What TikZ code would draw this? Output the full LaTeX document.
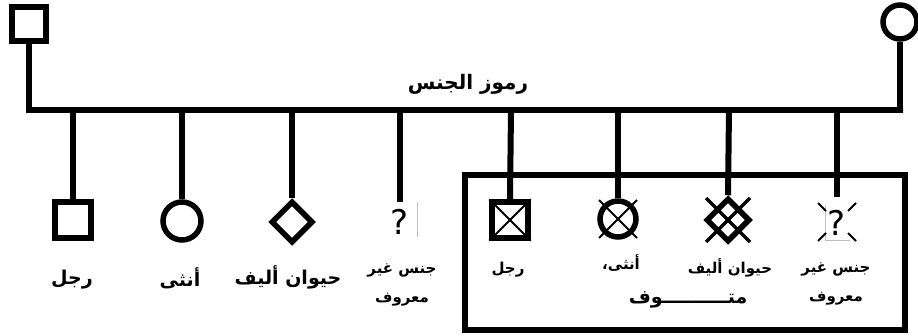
\documentclass[tikz,border=0pt]{standalone}
\usepackage{fontspec}
\usetikzlibrary{shapes.geometric}
\TeXXeTstate=1
\newfontfamily\arabicfont[Script=Arabic]{DejaVu Sans}
\newcommand{\ar}[1]{{\arabicfont\bfseries\beginR #1\endR}}
\begin{document}
\begin{tikzpicture}[x=1pt,y=-1pt,
  line/.style={line width=6pt},
  sym/.style={line width=5.5pt},
  xline/.style={line width=2pt},
  lab/.style={font=\fontsize{19}{22}\selectfont},
  blab/.style={font=\fontsize{15}{22}\selectfont},
  ulab/.style={font=\fontsize{15}{29}\selectfont, align=center},
  qm/.style={font=\arabicfont\fontsize{34}{34}\selectfont, inner sep=0pt},
  gline/.style={line width=0.8pt, draw=black!25}]
\useasboundingbox (0,0) rectangle (918,336);
% parents
\node[draw, sym, minimum size=34pt, inner sep=0pt] (father) at (29,24) {};
\node[draw, sym, circle, minimum size=34pt, inner sep=0pt] (mother) at (900,22) {};
\coordinate (jl) at (30,110);
\coordinate (jr) at (903,110);
\draw[line] (father.south) |- (jl) -- (jr) -| (mother.south);
\node[font=\fontsize{20}{22}\selectfont] (title) at (468,84) {\ar{رموز الجنس}};
% living
\node[draw, sym, minimum size=36pt, inner sep=0pt] (male) at (73,220) {};
\node[draw, sym, circle, minimum size=38pt, inner sep=0pt] (female) at (182,221) {};
\node[draw, sym, diamond, aspect=1, minimum size=42pt, inner sep=0pt] (pet) at (292,222) {};
\node[qm, anchor=base] (unk) at (400,235) {?};
\coordinate (unkt) at (400,202);
\draw[gline] (417,202) -- (417,237);
\foreach \n/\x in {male/73,female/182,pet/292} \draw[line] (\x,110) -- (\n.north);
\coordinate (d4) at (400,110);
\draw[line] (d4) -- (unkt);
\node[lab] (lmale) at (72,280) {\ar{رجل}};
\node[lab] (lfemale) at (180,278) {\ar{أنثى}};
\node[lab] (lpet) at (288,277) {\ar{حيوان أليف}};
\node[ulab] (lunk) at (402,285) {\ar{جنس غير}\\\ar{معروف}};
% deceased box
\node[draw, line width=5.5pt, minimum width=440pt, minimum height=155pt, inner sep=0pt] (box) at (685,252.5) {};
\node[draw, sym, minimum size=36pt, inner sep=0pt] (dmale) at (510,220) {};
\draw[xline] (dmale.north west) -- (dmale.south east) (dmale.north east) -- (dmale.south west);
\node[draw, sym, circle, minimum size=36pt, inner sep=0pt] (dfemale) at (618,219) {};
\draw[xline] (599,200) -- (637,238) (637,200) -- (599,238);
\node[draw, sym, diamond, aspect=1, minimum size=44pt, inner sep=0pt] (dpet) at (728,220) {};
\draw[line width=3.5pt] (706,198) -- (750,242) (750,198) -- (706,242);
\node[qm, anchor=base] (dunk) at (837,236) {?};
\draw[gline] (825,205) -- (825,240) -- (850,240);
\draw[xline] (818,203) -- (826,211) (856,203) -- (848,211) (818,241) -- (826,233) (856,241) -- (848,233);
\coordinate (dunkt) at (837,197);
\draw[line] (511,110) -- (dmale.north);
\draw[line] (618,110) -- (dfemale.north);
\draw[line] (729,110) -- (dpet.north);
\draw[line] (837,110) -- (dunkt);
\node[blab] (ldmale) at (508,270) {\ar{رجل}};
\node[blab] (ldfemale) at (621,263) {\ar{أنثى،}};
\node[blab] (ldpet) at (730,268) {\ar{حيوان أليف}};
\node[ulab] (ldunk) at (836,284) {\ar{جنس غير}\\\ar{معروف}};
\node[font=\fontsize{19}{22}\selectfont] (dec) at (688,300) {\ar{متــــــــــوف}};
\end{tikzpicture}
\end{document}
